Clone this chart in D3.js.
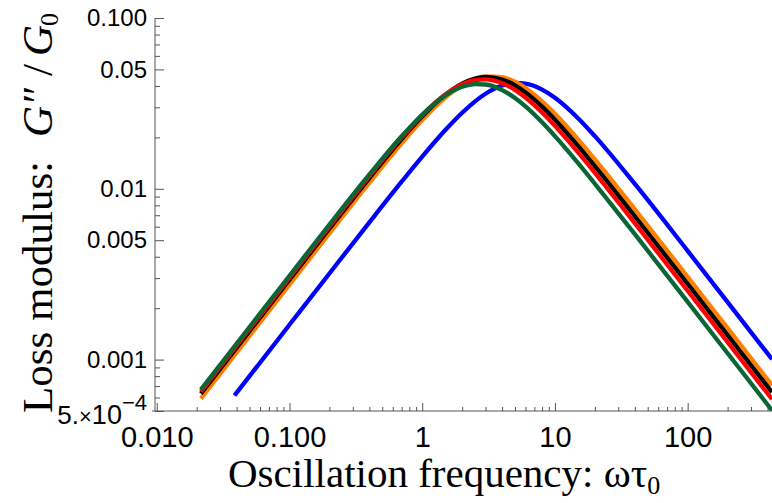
<!DOCTYPE html>
<html>
<head>
<meta charset="utf-8">
<script src="https://cdn.jsdelivr.net/npm/d3@7"></script>
<style>
    body { margin: 0; background: #fff; }
</style>
</head>
<body>
<div id="chart"></div>
<script>
/**
 * Values (G''/G0 against ωτ0)
 */
const freq = [0.0215, 0.05, 0.1, 0.2, 0.4, 0.7, 1, 1.5, 2, 2.5, 3, 4, 5, 6, 8, 10, 15, 20, 40, 100, 200, 432];
const greenG = [6.67e-4, 1.550e-3, 3.098e-3, 6.169e-3, 0.01213, 0.02030, 0.02715, 0.03524, 0.03953, 0.04103, 0.04079, 0.03785, 0.03401, 0.03038, 0.02454, 0.02035, 0.01408, 0.01070, 5.422e-3, 2.177e-3, 1.089e-3, 5.04e-4];
const redG = [6.50e-4, 1.511e-3, 3.019e-3, 6.016e-3, 0.01186, 0.01999, 0.02700, 0.03574, 0.04091, 0.04327, 0.04371, 0.04154, 0.03792, 0.03423, 0.02798, 0.02336, 0.01627, 0.01240, 6.295e-3, 2.529e-3, 1.265e-3, 5.86e-4];
const blackG = [6.32e-4, 1.469e-3, 2.935e-3, 5.852e-3, 0.01156, 0.01956, 0.02657, 0.03561, 0.04130, 0.04424, 0.04518, 0.04368, 0.04034, 0.03669, 0.03028, 0.02540, 0.01779, 0.01358, 6.909e-3, 2.778e-3, 1.390e-3, 6.44e-4];
const orangeG = [5.91e-4, 1.375e-3, 2.748e-3, 5.481e-3, 0.01085, 0.01844, 0.02523, 0.03431, 0.04045, 0.04400, 0.04558, 0.04508, 0.04231, 0.03892, 0.03254, 0.02750, 0.01941, 0.01486, 7.586e-3, 3.052e-3, 1.527e-3, 7.07e-4];

const blueFreq = [0.0385, 0.05, 0.1, 0.2, 0.4, 0.7, 1, 1.5, 2, 3, 4, 5, 6, 8, 10, 15, 20, 40, 100, 200, 432];
const blueG = [6.16e-4, 8.00e-4, 1.599e-3, 3.194e-3, 6.361e-3, 0.01100, 0.01543, 0.02216, 0.02788, 0.03604, 0.04025, 0.04163, 0.04126, 0.03811, 0.03415, 0.02583, 0.02033, 0.01067, 4.330e-3, 2.169e-3, 1.005e-3];

const xTicks = [0.01, 0.1, 1, 10, 100];
const xTickLabels = ["0.010", "0.100", "1", "10", "100"];
const yTicks = [0.1, 0.05, 0.01, 0.005, 0.001, 5e-4];
const yTickLabels = ["0.100", "0.05", "0.01", "0.005", "0.001", "5e-4"];

/**
 * Drawing order matters: green ends up on top
 */
const series = [
    { name: "blue", freq: blueFreq, values: blueG, color: "#0000ff" },
    { name: "orange", freq: freq, values: orangeG, color: "#ff7f00" },
    { name: "black", freq: freq, values: blackG, color: "#000000" },
    { name: "red", freq: freq, values: redG, color: "#ff0000" },
    { name: "green", freq: freq, values: greenG, color: "#0b6535" },
];

const width = 772;
const height = 503;
const axisColor = "#555";
const sans = "'Liberation Sans', Arial, sans-serif";
const serif = "'Liberation Serif', 'Times New Roman', serif";

const x = d3.scaleLog().domain([0.0097, 432]).range([155, 772]);
const y = d3.scaleLog().domain([5e-4, 0.1]).range([411, 18]);

const svg = d3
    .select("#chart")
    .append("svg")
    .attr("width", width)
    .attr("height", height)
    .attr("viewBox", `0 0 ${width} ${height}`);

svg.append("defs")
    .append("clipPath")
    .attr("id", "plot-clip")
    .append("rect")
    .attr("x", x.range()[0])
    .attr("y", y.range()[1])
    .attr("width", x.range()[1] - x.range()[0])
    .attr("height", y.range()[0] - y.range()[1]);

// Minor tick positions: 2..9 in every decade of each axis
const minorTicks = (majors, [lo, hi]) =>
    majors
        .flatMap((d) => d3.range(2, 10).map((m) => d * m))
        .filter((v) => v >= lo && v <= hi && !majors.includes(v));

const xMinor = minorTicks([0.01, 0.1, 1, 10, 100], x.domain());
const yMinor = minorTicks([0.0001, 0.001, 0.01], y.domain()).filter(
    (v) => !yTicks.some((t) => Math.abs(t - v) < 1e-9),
);

// X axis
const xAxisG = svg.append("g").attr("transform", `translate(0, ${y.range()[0]})`);

xAxisG
    .append("g")
    .call(d3.axisBottom(x).tickValues(xMinor).tickSize(-4).tickFormat(""))
    .call((g) => g.select(".domain").remove());

xAxisG
    .append("g")
    .call(
        d3
            .axisBottom(x)
            .tickValues(xTicks)
            .tickSize(-8)
            .tickPadding(15)
            .tickFormat((d, i) => xTickLabels[i]),
    )
    .call((g) => g.select(".domain").remove())
    .call((g) =>
        g
            .selectAll("text")
            .attr("fill", "#000")
            .attr("font-family", sans)
            .attr("font-size", 29),
    );

xAxisG
    .append("line")
    .attr("x1", 152)
    .attr("x2", x.range()[1])
    .attr("stroke", axisColor);

// Y axis
const yAxisG = svg.append("g").attr("transform", `translate(${x.range()[0]}, 0)`);

yAxisG
    .append("g")
    .call(d3.axisLeft(y).tickValues(yMinor).tickSize(-5).tickFormat(""))
    .call((g) => g.select(".domain").remove());

yAxisG
    .append("g")
    .call(
        d3
            .axisLeft(y)
            .tickValues(yTicks)
            .tickSize(-9)
            .tickPadding(8)
            .tickFormat((d, i) => yTickLabels[i]),
    )
    .call((g) => g.select(".domain").remove())
    .call((g) =>
        g
            .selectAll("text")
            .attr("fill", "#000")
            .attr("font-family", sans)
            .attr("font-size", 24),
    );

// 5.×10^-4 needs a superscript, and sits a little lower than its tick
yAxisG
    .selectAll(".tick text")
    .filter((d) => d === 5e-4)
    .text(null)
    .attr("dy", "0.5em")
    .call((t) => {
        t.append("tspan").attr("font-size", "26px").text("5.");
        t.append("tspan").attr("font-size", "22px").text("×");
        t.append("tspan").attr("font-size", "27px").text("10");
        t.append("tspan")
            .attr("font-size", "22px")
            .attr("dy", "-0.6em")
            .text("−4");
    });

yAxisG
    .append("line")
    .attr("y1", y.range()[0])
    .attr("y2", y.range()[1])
    .attr("stroke", axisColor);

svg.selectAll(".tick line").attr("stroke", axisColor);

// Curves
const line = d3
    .line()
    .x((d) => x(d[0]))
    .y((d) => y(d[1]))
    .curve(d3.curveMonotoneX);

svg.append("g")
    .attr("clip-path", "url(#plot-clip)")
    .selectAll("path")
    .data(series)
    .join("path")
    .attr("d", (s) => line(s.freq.map((f, i) => [f, s.values[i]])))
    .attr("fill", "none")
    .attr("stroke", (s) => s.color)
    .attr("stroke-width", 4.3);

// Axis titles
const xTitle = svg
    .append("text")
    .attr("x", 228)
    .attr("y", 487)
    .attr("font-family", serif)
    .attr("font-size", 41)
    .attr("fill", "#000");

xTitle.append("tspan").text("Oscillation frequency: ωτ");
xTitle.append("tspan").attr("font-size", 26).attr("dy", 7).text("0");

const yTitle = svg
    .append("g")
    .attr("transform", "translate(52, 0) rotate(-90)")
    .append("text")
    .attr("font-family", serif)
    .attr("font-size", 43)
    .attr("fill", "#000");

yTitle.append("tspan").attr("x", -413).text("Loss modulus:");
yTitle.append("tspan").attr("x", -137).attr("font-style", "italic").text("G″");
yTitle.append("tspan").attr("x", -76).text("/");
yTitle.append("tspan").attr("x", -56).attr("font-style", "italic").text("G");
yTitle.append("tspan").attr("x", -26).attr("font-size", 26).attr("dy", 6).text("0");
</script>
</body>
</html>
